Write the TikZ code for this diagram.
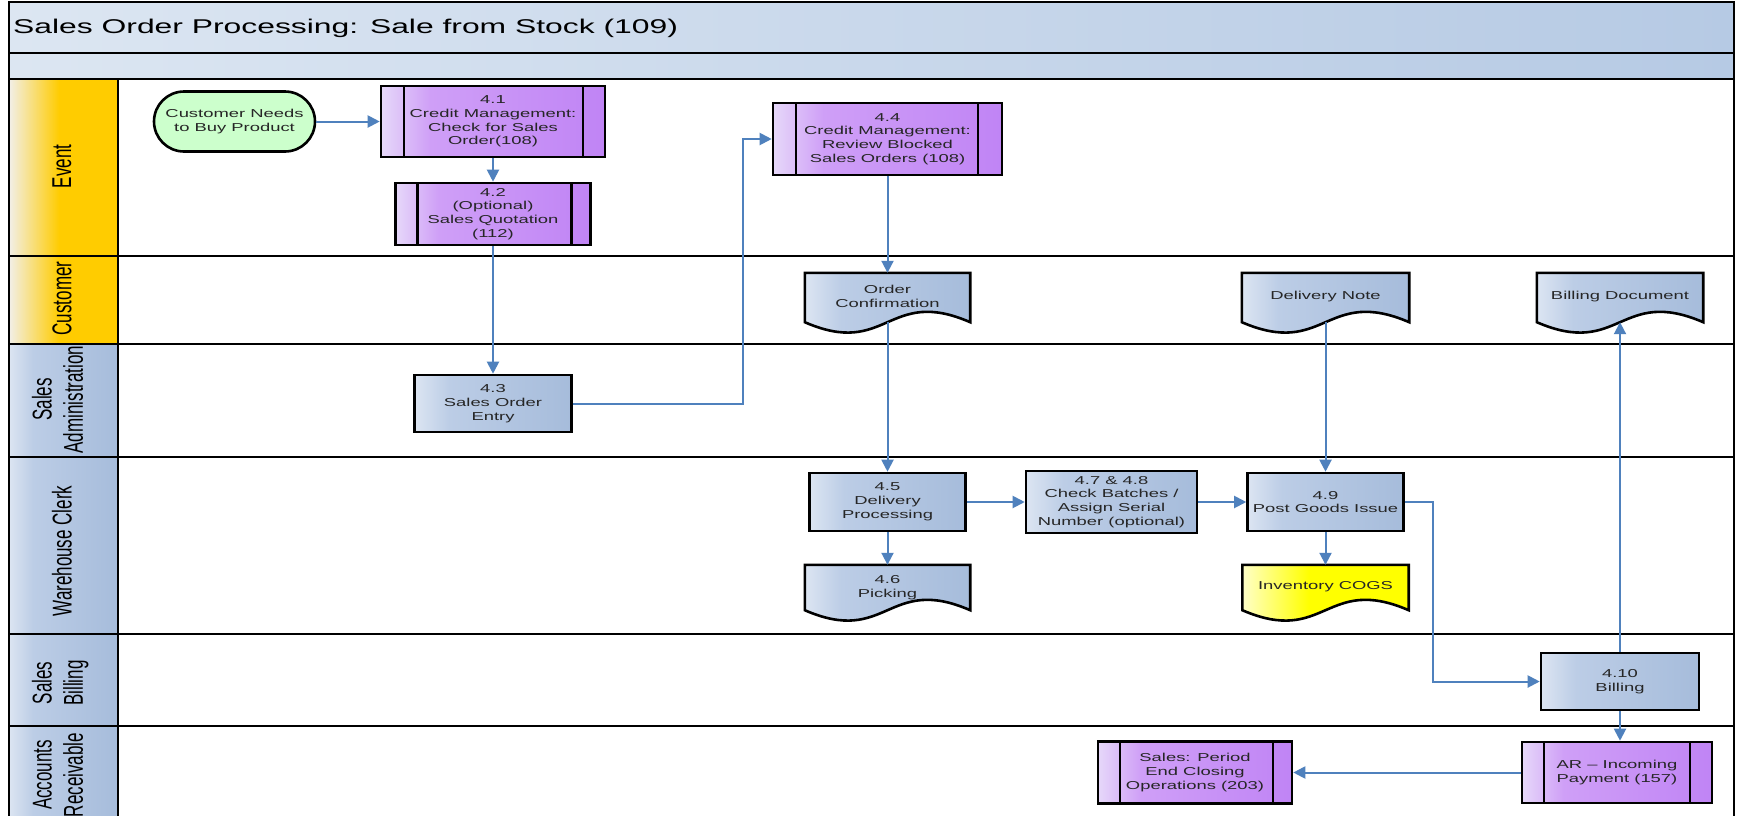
\documentclass[tikz,border=0pt]{standalone}
\usepackage{fontspec}
\setmainfont{Liberation Sans}
\newfontfamily\sfx[FakeStretch=1.6]{Liberation Sans}
\usetikzlibrary{arrows.meta,calc,shapes.misc}
\pgfdeclarelayer{back}
\pgfdeclarelayer{docs}
\pgfsetlayers{back,docs,main}
\definecolor{connC}{HTML}{4F81BD}
\definecolor{boxA}{HTML}{DCE5F2}
\definecolor{boxM}{HTML}{BCCDE6}
\definecolor{boxB}{HTML}{A6BCDB}
\definecolor{purA}{HTML}{E6D8F9}
\definecolor{purM}{HTML}{CF9FF7}
\definecolor{purB}{HTML}{C084F5}
\definecolor{goldB}{HTML}{FFCC00}
\definecolor{goldA}{HTML}{F2EFE8}
\definecolor{titleA}{HTML}{DCE6F2}
\definecolor{titleB}{HTML}{B6CAE4}
\definecolor{greenF}{HTML}{CCFFCC}
\definecolor{yelA}{HTML}{FFFFC8}
\definecolor{yelB}{HTML}{FFFF00}
\pgfdeclarehorizontalshading{bluesh}{100bp}{color(0bp)=(boxA); color(25bp)=(boxA); color(36bp)=(boxM); color(75bp)=(boxB); color(100bp)=(boxB)}
\pgfdeclarehorizontalshading{purpsh}{100bp}{color(0bp)=(purA); color(25bp)=(purA); color(36bp)=(purM); color(75bp)=(purB); color(100bp)=(purB)}
\pgfdeclarehorizontalshading{goldsh}{100bp}{color(0bp)=(goldA); color(25bp)=(goldA); color(48bp)=(goldB); color(100bp)=(goldB)}
\pgfdeclarehorizontalshading{yelsh}{100bp}{color(0bp)=(yelA); color(25bp)=(yelA); color(45bp)=(yelB); color(100bp)=(yelB)}
\newcommand\dtxt[1]{\raisebox{5pt}{\begin{tabular}{@{}c@{}}#1\end{tabular}}}
\newcommand\docshape[2]{\begin{pgfonlayer}{docs}\path[#2] (#1.north west) -- (#1.north east) -- (#1.south east) .. controls ($(#1.south)+(0,-36)$) and ($(#1.south)+(0,36)$) .. (#1.south west) -- cycle;\end{pgfonlayer}}
\tikzset{
  txt/.style={font=\sfx\fontsize{11.5}{13.8}\selectfont, text=black!85, align=center, inner sep=0pt},
  blueshade/.style={shade, shading=bluesh},
  proc/.style={txt, draw=black, line width=2.6pt, blueshade},
  sub/.style 2 args={txt, draw=black, line width=2.6pt, shade, shading=purpsh,
    path picture={\draw[line width=2.6pt] ([xshift=#1]path picture bounding box.north west) -- ([xshift=#1]path picture bounding box.south west)
      ([xshift=-#2]path picture bounding box.north east) -- ([xshift=-#2]path picture bounding box.south east);}},
  doc/.style={txt},
  docblue/.style={draw=black, line width=2.6pt, blueshade},
  docyel/.style={draw=black, line width=2.6pt, shade, shading=yelsh},
  conn/.style={draw=connC, line width=2pt, -{Triangle[length=12pt,width=12pt]}},
  lanelbl/.style={rotate=90, font=\fontsize{17}{19.5}\selectfont, text=black, inner sep=0pt},
  lanerule/.style={line width=2.6pt, draw=black},
  laneY/.style={shading=goldsh},
  laneB/.style={shading=bluesh},
}
\begin{document}
\begin{tikzpicture}[x=1pt,y=-1pt]
\clip (0,0) rectangle (1739,815);
\begin{pgfonlayer}{back}
\fill[white] (0,0) rectangle (1739,815);
\shade[left color=titleA, right color=titleB] (9,2) rectangle (1734,79);
\shade[laneY] (9,79) rectangle (118,256);
\shade[laneY] (9,256) rectangle (118,344);
\shade[laneB] (9,344) rectangle (118,457);
\shade[laneB] (9,457) rectangle (118,634);
\shade[laneB] (9,634) rectangle (118,726);
\shade[laneB] (9,726) rectangle (118,830);
\draw[lanerule] (9,830) -- (9,2) -- (1734,2) -- (1734,830);
\foreach \yy in {53,79,256,344,457,634,726} {\draw[lanerule] (9,\yy) -- (1734,\yy);}
\draw[lanerule] (118,79) -- (118,830);
\end{pgfonlayer}

\node[anchor=base west, font=\sfx\fontsize{19.9}{24}\selectfont, inner sep=0pt] (title) at (13,33) {Sales Order Processing: Sale from Stock (109)};

\node[lanelbl] (lEvent) at (62,166.5) {\scalebox{1}[1.6]{Event}};
\node[lanelbl] (lCust) at (62,298.5) {\scalebox{1}[1.6]{Customer}};
\node[lanelbl] (lSA) at (61,399.5) {\scalebox{1}[1.6]{\begin{tabular}{@{}c@{}}Sales\\Administration\end{tabular}}};
\node[lanelbl] (lWC) at (62,551) {\scalebox{1}[1.6]{Warehouse Clerk}};
\node[lanelbl] (lSB) at (61,683) {\scalebox{1}[1.6]{\begin{tabular}{@{}c@{}}Sales\\Billing\end{tabular}}};
\node[lanelbl] (lAR) at (61,775) {\scalebox{1}[1.6]{\begin{tabular}{@{}c@{}}Accounts\\Receivable\end{tabular}}};

\node[txt, rounded rectangle, draw=black, line width=2.6pt, fill=greenF, minimum width=161pt, minimum height=60pt] (start) at (234.5,121.5) {Customer Needs\\to Buy Product};
\node[sub={23pt}{22pt}, minimum width=224pt, minimum height=71pt] (n41) at (493,121.5) {4.1\\Credit Management:\\Check for Sales\\Order(108)};
\node[sub={22pt}{19pt}, minimum width=195pt, minimum height=62pt] (n42) at (493,214) {4.2\\(Optional)\\Sales Quotation\\(112)};
\node[proc, minimum width=157pt, minimum height=57pt] (n43) at (493,403.5) {4.3\\Sales Order\\Entry};
\node[sub={23pt}{24pt}, minimum width=229pt, minimum height=72pt] (n44) at (887.5,139) {4.4\\Credit Management:\\Review Blocked\\Sales Orders (108)};

\node[doc, minimum width=165pt, minimum height=49pt] (oc) at (887.5,297.5) {\dtxt{Order\\Confirmation}};
\node[doc, minimum width=167pt, minimum height=49pt] (dn) at (1325.5,297.5) {\dtxt{Delivery Note}};
\node[doc, minimum width=166pt, minimum height=49pt] (bd) at (1620,297.5) {\dtxt{Billing Document}};
\docshape{oc}{docblue}
\docshape{dn}{docblue}
\docshape{bd}{docblue}

\node[proc, minimum width=156pt, minimum height=58pt] (n45) at (887.5,502) {4.5\\Delivery\\Processing};
\node[proc, minimum width=171pt, minimum height=62pt] (n47) at (1111.5,502) {4.7 \& 4.8\\Check Batches /\\Assign Serial\\Number (optional)};
\node[proc, minimum width=156pt, minimum height=58pt] (n49) at (1325.5,502) {4.9\\Post Goods Issue};
\node[doc, minimum width=165pt, minimum height=45pt] (n46) at (887.5,587.5) {\dtxt{4.6\\Picking}};
\node[doc, minimum width=166pt, minimum height=45pt] (cogs) at (1325.5,587.5) {\dtxt{Inventory COGS}};
\docshape{n46}{docblue}
\docshape{cogs}{docyel}

\node[proc, minimum width=158pt, minimum height=57pt] (n410) at (1620,681.5) {4.10\\Billing};
\node[sub={22pt}{22pt}, minimum width=190pt, minimum height=61pt] (ar) at (1617,772.5) {AR – Incoming\\Payment (157)};
\node[sub={22pt}{19pt}, minimum width=194pt, minimum height=62pt] (sp) at (1195,772.5) {Sales: Period\\End Closing\\Operations (203)};

\coordinate (b1) at (743,0);
\coordinate (b2) at (1433,0);
\draw[conn] (start.east) -- (start.east -| n41.west);
\draw[conn] (n41.south) -- (n41.south |- n42.north);
\draw[conn] (n42.south) -- (n42.south |- n43.north);
\draw[conn] (n43.east) -- (n43.east -| b1) |- (n44.west);
\draw[conn] (n44.south) -- (oc.north);
\draw[conn] (oc.south) -- (n45.north);
\draw[conn] (n45.south) -- (n46.north);
\draw[conn] (n45.east) -- (n47.west);
\draw[conn] (n47.east) -- (n49.west);
\draw[conn] (dn.south) -- (n49.north);
\draw[conn] (n49.south) -- (cogs.north);
\draw[conn] (n49.east) -- (n49.east -| b2) |- (n410.west);
\draw[conn] (n410.north) -- (bd.south);
\draw[conn] (n410.south) -- (n410.south |- ar.north);
\draw[conn] (ar.west) -- (sp.east);
\end{tikzpicture}
\end{document}
